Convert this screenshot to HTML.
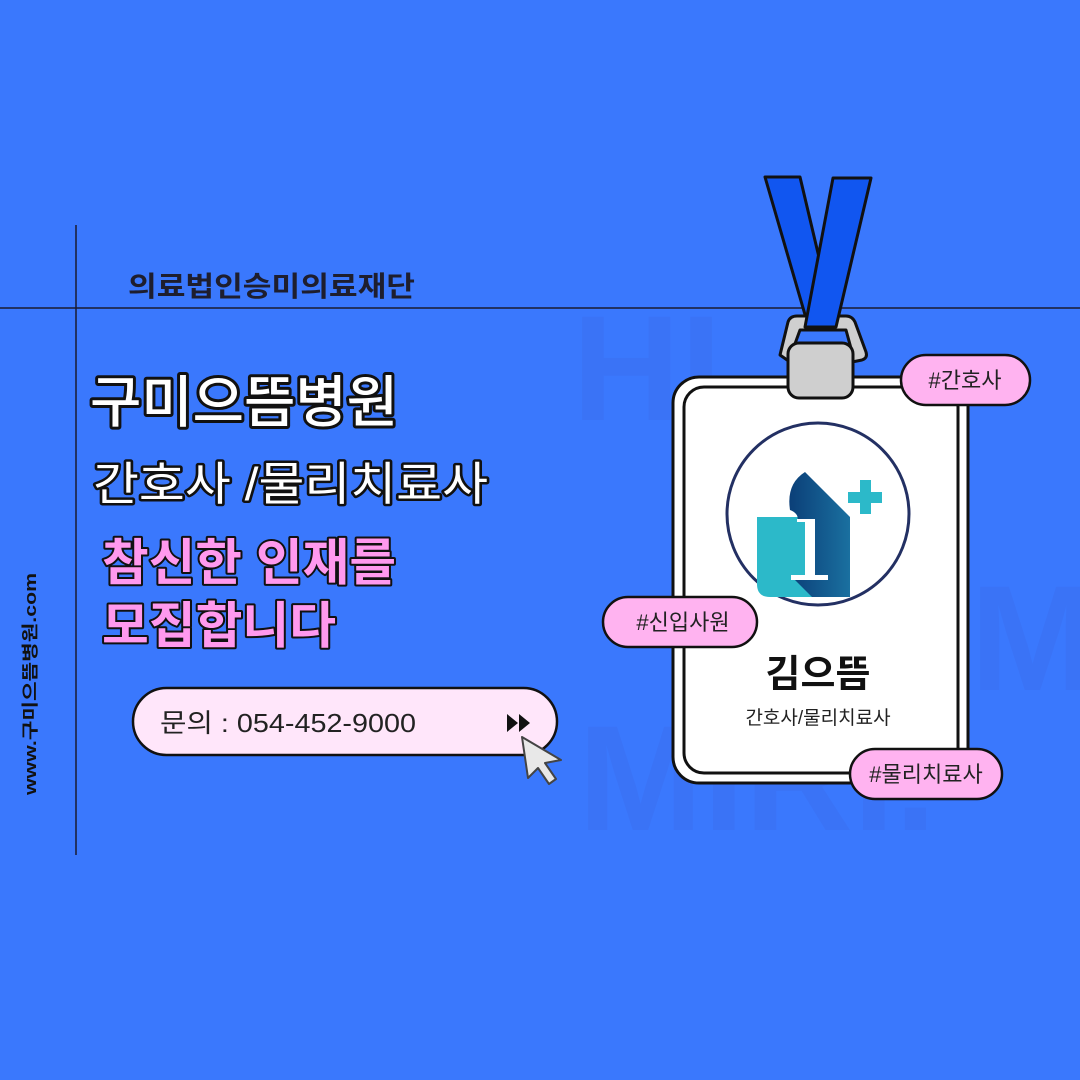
<!DOCTYPE html>
<html><head><meta charset="utf-8"><style>
html,body{margin:0;padding:0}
body{width:1080px;height:1080px;background:#3a78fd;overflow:hidden;position:relative;font-family:"Liberation Sans","Noto Sans CJK KR","NanumGothic",sans-serif}
svg{position:absolute;left:0;top:0}
</style></head><body>
<svg width="1080" height="1080" viewBox="0 0 1080 1080">
<defs>
<linearGradient id="g1" x1="0" y1="0" x2="1" y2="0"><stop offset="0" stop-color="#0b3f78"/><stop offset="1" stop-color="#1a70a0"/></linearGradient>
</defs>
<g font-family="Liberation Sans, sans-serif" font-weight="bold" fill="#3a6ff0" opacity="0.5">
<text x="572" y="420" font-size="150">HI.</text>
<text x="970" y="690" font-size="150">M</text>
<text x="578" y="830" font-size="150">MIRI.</text>
</g>
<line x1="76" y1="225" x2="76" y2="855" stroke="#1a1a2e" stroke-width="1.5"/>
<line x1="0" y1="308" x2="1080" y2="308" stroke="#1a1a2e" stroke-width="1.5"/>
<text x="128" y="296" font-size="28" font-weight="bold" fill="#1e1e2e" textLength="287" lengthAdjust="spacingAndGlyphs">의료법인승미의료재단</text>
<g stroke="#111" stroke-linejoin="round" paint-order="stroke">
<text x="90" y="422" font-size="56" fill="#fff" stroke-width="6" font-weight="500" textLength="308" lengthAdjust="spacingAndGlyphs">구미으뜸병원</text>
<text x="93" y="500" font-size="46" fill="#fff" stroke-width="5" textLength="395" lengthAdjust="spacingAndGlyphs">간호사 /물리치료사</text>
<text x="102" y="580" font-size="50" fill="#ff99ee" stroke-width="4" font-weight="bold" textLength="294" lengthAdjust="spacingAndGlyphs">참신한 인재를</text>
<text x="102" y="643" font-size="50" fill="#ff99ee" stroke-width="4" font-weight="bold" textLength="234" lengthAdjust="spacingAndGlyphs">모집합니다</text>
</g>
<text transform="translate(36,795) rotate(-90)" font-size="17" font-weight="bold" fill="#111" textLength="222" lengthAdjust="spacingAndGlyphs">www.구미으뜸병원.com</text>
<rect x="133" y="688" width="424" height="67" rx="33.5" fill="#ffe6fa" stroke="#111" stroke-width="2.5"/>
<text x="160" y="732" font-size="26" fill="#222" textLength="256" lengthAdjust="spacingAndGlyphs">문의 : 054-452-9000</text>
<path d="M507 714 L507 732 L518 723 Z M519 714 L519 732 L530 723 Z" fill="#111"/>
<path d="M522 737 L561 760 L545 763 L556 779 L549 784 L538 768 L528 778 Z" fill="#e8e8e8" stroke="#444" stroke-width="2" stroke-linejoin="round"/>
<path d="M765 177 L800 177 L835 325 L808 325 Z" fill="#1156f0" stroke="#111" stroke-width="3" stroke-linejoin="round"/>
<path d="M780 355 L788 322 Q790 316 797 316 L846 316 Q852 316 855 322 L866 352 Q868 358 862 360 L852 362 L852 352 L846 330 L800 330 L792 352 L790 362 Z" fill="#cfcfcf" stroke="#111" stroke-width="3" stroke-linejoin="round"/>
<path d="M833 178 L871 178 L836 327 L805 327 Z" fill="#1156f0" stroke="#111" stroke-width="3" stroke-linejoin="round"/>
<rect x="673" y="377" width="295" height="406" rx="26" fill="#fff" stroke="#111" stroke-width="3"/>
<rect x="684" y="387" width="274" height="386" rx="20" fill="#fff" stroke="#111" stroke-width="3"/>
<rect x="788" y="343" width="65" height="55" rx="11" fill="#cfcfcf" stroke="#111" stroke-width="3"/>
<circle cx="818" cy="514" r="91" fill="#fff" stroke="#233063" stroke-width="3"/>
<path d="M757 517 L812 517 L812 597 L770 597 Q757 597 757 584 Z" fill="#2cb9c9"/>
<path d="M790 510 Q786 484 805 472 L850 517 L850 597 L812 597 L792 577 L805 577 L805 522 L797 522 Q800 514 790 510 Z" fill="url(#g1)"/>
<path d="M805 519 L815 519 L815 575 L828 575 L828 580 L791 580 L791 575 L805 575 L805 522 L797 522 L797 519 Z" fill="#fff"/>
<path d="M860 480 L871 480 L871 492 L882 492 L882 503 L871 503 L871 514 L860 514 L860 503 L848 503 L848 492 L860 492 Z" fill="#2cb9c9"/>
<text x="818" y="687" font-size="38" font-weight="bold" fill="#111" text-anchor="middle">김으뜸</text>
<text x="818" y="724" font-size="19" fill="#222" text-anchor="middle">간호사/물리치료사</text>
<g font-size="22" fill="#222">
<rect x="901" y="355" width="129" height="50" rx="25" fill="#ffb3f0" stroke="#111" stroke-width="2.5"/>
<text x="965" y="388" text-anchor="middle">#간호사</text>
<rect x="603" y="597" width="154" height="50" rx="25" fill="#ffb3f0" stroke="#111" stroke-width="2.5"/>
<text x="683" y="630" text-anchor="middle">#신입사원</text>
<rect x="850" y="749" width="152" height="50" rx="25" fill="#ffb3f0" stroke="#111" stroke-width="2.5"/>
<text x="926" y="782" text-anchor="middle">#물리치료사</text>
</g>
</svg>
</body></html>
